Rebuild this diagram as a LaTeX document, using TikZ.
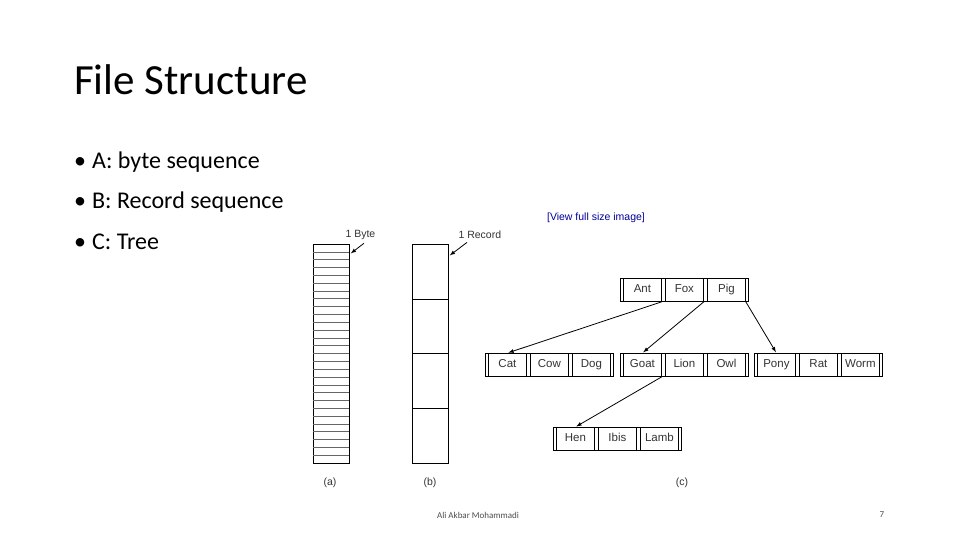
\documentclass[tikz,border=0pt]{standalone}
\usepackage{fontspec}
\setmainfont{Carlito}
\newfontfamily\arialf{Liberation Sans}
\begin{document}
\begin{tikzpicture}[x=1pt,y=-1pt,
  cell/.style={draw,line width=0.8pt,minimum width=38pt,minimum height=23pt,inner sep=0pt,anchor=north west,text height=8.5pt,text depth=2.5pt,font=\arialf\fontsize{11.5}{12}\selectfont,text=black!80},
  arr/.style={-latex,line width=0.8pt,shorten >=1pt},
  fig/.style={font=\arialf\fontsize{10.5}{12}\selectfont,text=black!80},
  bul/.style={anchor=west,inner sep=0pt,font=\fontsize{24}{26}\selectfont}]
\useasboundingbox (0,0) rectangle (960,540);
\newcommand\tgroup[6]{%
  \node[cell] (#1a) at (#2+3,#3) {#4};
  \node[cell] (#1b) at (#2+45,#3) {#5};
  \node[cell] (#1c) at (#2+87,#3) {#6};
  \draw[line width=0.8pt] (#1a.north west)++(-3,0) -- ++(0,23);
  \draw[line width=0.8pt] (#1c.north east)++(3,0) -- ++(0,23);
  \draw[line width=0.8pt] (#1a.north west)++(-3,0) -- (#1a.north west);
  \draw[line width=0.8pt] (#1a.south west)++(-3,0) -- (#1a.south west);
  \draw[line width=0.8pt] (#1a.north east) -- (#1b.north west) (#1a.south east) -- (#1b.south west);
  \draw[line width=0.8pt] (#1b.north east) -- (#1c.north west) (#1b.south east) -- (#1c.south west);
  \draw[line width=0.8pt] (#1c.north east) -- ++(3,0) (#1c.south east) -- ++(3,0);
}
\node[anchor=west,inner sep=0pt,font=\fontsize{43}{46}\selectfont] (title) at (74,80) {File Structure};
\node[bul] (b1) at (74,162) {•\hspace{6pt}A: byte sequence};
\node[bul] (b2) at (74,202) {•\hspace{6pt}B: Record sequence};
\node[bul] (b3) at (74,242) {•\hspace{6pt}C: Tree};
% byte column
\node[draw,line width=0.8pt,minimum width=36pt,minimum height=219pt,anchor=north west,inner sep=0pt] (bytes) at (313,244) {};
\foreach \i in {1,...,27} \draw[black!60,line width=0.5pt] (313,244+\i*7.82) -- (349,244+\i*7.82);
% record column
\node[draw,line width=0.8pt,minimum width=36pt,minimum height=219pt,anchor=north west,inner sep=0pt] (recs) at (412,244) {};
\foreach \yy in {299,353,408} \draw[line width=0.8pt] (412,\yy) -- (448,\yy);
\node[fig,anchor=west] (lb) at (342,235) {1 Byte};
\node[fig,anchor=west] (lr) at (455,235) {1 Record};
\coordinate (pb) at (350,254);
\coordinate (pr) at (449,256);
\draw[arr] (lb.south west)++(22,0) -- (pb);
\draw[arr] (lr.south west)++(12,0) -- (pr);
\node[font=\arialf\fontsize{10.5}{12}\selectfont,text=blue!60!black] (view) at (596,218) {[View full size image]};
% tree
\tgroup{t}{620}{278}{Ant}{Fox}{Pig}
\tgroup{l}{485}{353}{Cat}{Cow}{Dog}
\tgroup{m}{620}{353}{Goat}{Lion}{Owl}
\tgroup{r}{754}{353}{Pony}{Rat}{Worm}
\tgroup{h}{553}{427}{Hen}{Ibis}{Lamb}
\draw[arr] (ta.south east) -- (la.north);
\draw[arr] (tb.south east) -- (ma.north);
\draw[arr] (tc.south east) -- (ra.north);
\draw[arr] (ma.south east) -- (ha.north);
\node[fig] (ca) at (330,483) {(a)};
\node[fig] (cb) at (430,483) {(b)};
\node[fig] (cc) at (682,483) {(c)};
\node[font=\fontsize{9}{10}\selectfont,text=black!70] (foot) at (478,515) {Ali Akbar Mohammadi};
\node[font=\fontsize{9}{10}\selectfont,text=black!70] (pg) at (882,515) {7};
\end{tikzpicture}
\end{document}
